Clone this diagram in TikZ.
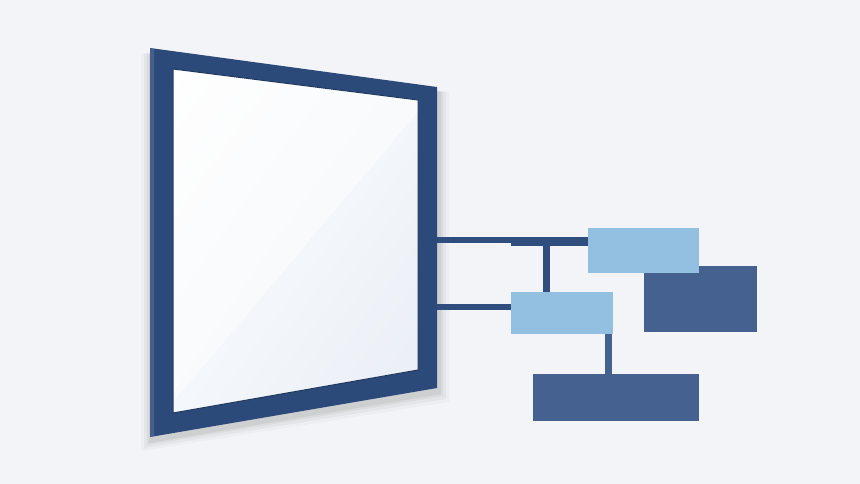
\documentclass[tikz,border=0pt]{standalone}
\usetikzlibrary{shadings}
\definecolor{bgcol}{HTML}{F3F4F7}
\definecolor{framecol}{HTML}{2B4A7A}
\definecolor{linkcol}{HTML}{2F4E7E}
\definecolor{boxlight}{HTML}{93BFE1}
\definecolor{boxdark}{HTML}{45618F}
\definecolor{glassa}{HTML}{F4F7FB}
\definecolor{glassb}{HTML}{E9EEF5}

\begin{document}
\begin{tikzpicture}[
x=1pt,y=-1pt,
lightbox/.style={
	fill=boxlight,
	inner sep=0pt
},
darkbox/.style={
	fill=boxdark,
	inner sep=0pt
},
link/.style={
	draw=linkcol,
	line width=6pt
}
]
\fill[bgcol] (0,0) rectangle (860,484);
\useasboundingbox (0,0) rectangle (860,484);

% soft shadow behind the frame
\foreach \d/\o in {10/0.025,7/0.035,4/0.045,2/0.05}
\fill[black,opacity=\o] ({151-\d},{53}) -- ({439+\d},{92}) -- ({439+\d},{392+\d}) -- ({151-\d},{441+\d}) -- cycle;

% frame
\fill[framecol] (150,48) -- (437,87) -- (437,388) -- (150,437) -- cycle;
\fill[framecol!88!white] (150,48) -- (154,49) -- (154,436) -- (150,437) -- cycle;

% glass
\shade[upper left=white,upper right=glassa,lower left=glassa,lower right=glassb]
(173,69) -- (418,100) -- (418,370) -- (173,413) -- cycle;
\fill[white,opacity=0.45] (173,69) -- (418,100) -- (418,112) -- (173,402) -- cycle;
\draw[framecol!75!black,line width=1pt] (173,69) -- (418,100) -- (418,370) -- (173,413) -- cycle;

\coordinate (f1) at (437,240);
\coordinate (f2) at (437,307);
\coordinate (bar) at (511,241.5);
\coordinate (tee) at (546,240);
\coordinate (drop) at (608,0);

\node[darkbox,minimum width=113pt,minimum height=66pt] (d1) at (700.5,299) {};
\node[lightbox,minimum width=111pt,minimum height=45pt] (l1) at (643.5,250.5) {};
\node[lightbox,minimum width=102pt,minimum height=42pt] (l2) at (562,313) {};
\node[darkbox,minimum width=166pt,minimum height=47pt] (d2) at (616,397.5) {};

\draw[link] (f1) -- (f1 -| l1.west);
\draw[link,line width=9pt] (bar) -- (bar -| l1.west);
\draw[link,line width=7pt] (tee) -- (tee |- l2.north);
\draw[link] (f2) -- (f2 -| l2.west);
\draw[link,draw=boxdark,line width=7pt] (l2.south -| drop) -- (d2.north -| drop);
\end{tikzpicture}
\end{document}
